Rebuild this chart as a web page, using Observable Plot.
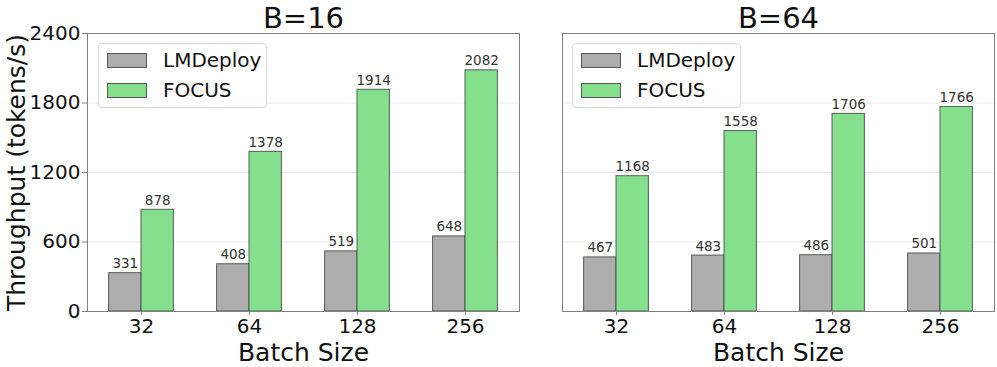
<!DOCTYPE html>
<html>
<head>
<meta charset="utf-8">
<script src="https://cdn.jsdelivr.net/npm/d3@7"></script>
<script src="https://cdn.jsdelivr.net/npm/@observablehq/plot@0.6"></script>
<style>
  html, body { margin: 0; padding: 0; background: white; }
  #wrap { position: relative; width: 997px; height: 367px; font-family: "DejaVu Sans", sans-serif; }
  .panel { position: absolute; top: 0; }
  .legend { position: absolute; top: 43px; width: 167px; height: 63px; border: 1px solid #d8d8d8; border-radius: 4px; background: rgba(255,255,255,0.8); }
  .legend .row { position: absolute; left: 8px; height: 15px; }
  .legend .sw { position: absolute; left: 0; top: 0; width: 38px; height: 13px; border: 1px solid #555; }
  .legend .lab { position: absolute; left: 56px; top: -5px; font-size: 20px; color: #111; white-space: nowrap; }
</style>
</head>
<body>
<div id="wrap"></div>
<script>
const batchSizes = ["32", "64", "128", "256"];
const seriesNames = ["LMDeploy", "FOCUS"];
const panelTitles = ["B=16", "B=64"];
const lmdeployB16 = [331, 408, 519, 648];
const focusB16 = [878, 1378, 1914, 2082];
const lmdeployB64 = [467, 483, 486, 501];
const focusB64 = [1168, 1558, 1706, 1766];
const yTicks = [0, 600, 1200, 1800, 2400];
const seriesColors = ["#adadad", "#85e08d"];
const barWidth = 0.3;

function rows(lm, fc) {
  const out = [];
  batchSizes.forEach((b, i) => {
    out.push({i, batch: b, series: seriesNames[0], value: lm[i]});
    out.push({i, batch: b, series: seriesNames[1], value: fc[i]});
  });
  return out;
}
const left = d => d.i + (d.series === seriesNames[0] ? -barWidth : 0);

function panel({title, data, width, marginLeft, marginRight, showY}) {
  const marks = [
    Plot.gridY(yTicks.slice(1, -1), {stroke: "#e8e8e8", strokeOpacity: 1}),
    Plot.rectY(data, {x1: left, x2: d => left(d) + barWidth, y1: 0, y2: "value", fill: "series", stroke: "#444", strokeOpacity: 0.85, strokeWidth: 1}),
    Plot.text(data, {x: d => left(d) + barWidth / 2, y: "value", text: d => String(d.value), lineAnchor: "bottom", dy: -5, fontSize: 13.5, fill: "#333"}),
    Plot.frame({stroke: "#808080"}),
    Plot.axisX({ticks: [0, 1, 2, 3], tickFormat: i => batchSizes[i], fontSize: 20, tickSize: 4, tickPadding: 3, label: null, stroke: "#808080", fill: "#111"}),
    Plot.text([title], {frameAnchor: "top", lineAnchor: "bottom", dy: -6, fontSize: 29, fill: "#111"}),
    Plot.text(["Batch Size"], {frameAnchor: "bottom", lineAnchor: "bottom", dy: 49, fontSize: 25, fill: "#111"})
  ];
  if (showY) {
    marks.push(Plot.axisY({ticks: yTicks, tickFormat: d => String(d), fontSize: 20, tickSize: 5, tickPadding: 2, label: null, stroke: "#808080", fill: "#111"}));
    marks.push(Plot.text(["Throughput (tokens/s)"], {frameAnchor: "left", rotate: -90, dx: -71, textAnchor: "middle", lineAnchor: "middle", fontSize: 25, fill: "#111"}));
  }
  return Plot.plot({
    width, height: 367,
    marginTop: 33, marginBottom: 56, marginLeft, marginRight,
    style: {fontFamily: "DejaVu Sans", background: "white", overflow: "visible"},
    x: {domain: [-0.5, 3.5]},
    y: {domain: [0, 2400], axis: showY ? undefined : null},
    color: {domain: seriesNames, range: seriesColors},
    marks
  });
}

function legend(leftPx) {
  const lg = document.createElement("div");
  lg.className = "legend";
  lg.style.left = leftPx + "px";
  seriesNames.forEach((s, k) => {
    const row = document.createElement("div");
    row.className = "row";
    row.style.top = (9 + k * 29.5) + "px";
    const sw = document.createElement("div");
    sw.className = "sw";
    sw.style.background = seriesColors[k];
    const lab = document.createElement("div");
    lab.className = "lab";
    lab.textContent = s;
    row.appendChild(sw); row.appendChild(lab);
    lg.appendChild(row);
  });
  return lg;
}

const wrap = document.getElementById("wrap");
const p1 = panel({title: panelTitles[0], data: rows(lmdeployB16, focusB16), width: 530, marginLeft: 87, marginRight: 11, showY: true});
p1.classList.add("panel"); p1.style.left = "0px";
const p2 = panel({title: panelTitles[1], data: rows(lmdeployB64, focusB64), width: 467, marginLeft: 32, marginRight: 3, showY: false});
p2.classList.add("panel"); p2.style.left = "530px";
wrap.appendChild(p1);
wrap.appendChild(p2);
wrap.appendChild(legend(98));
wrap.appendChild(legend(572));
</script>
</body>
</html>
